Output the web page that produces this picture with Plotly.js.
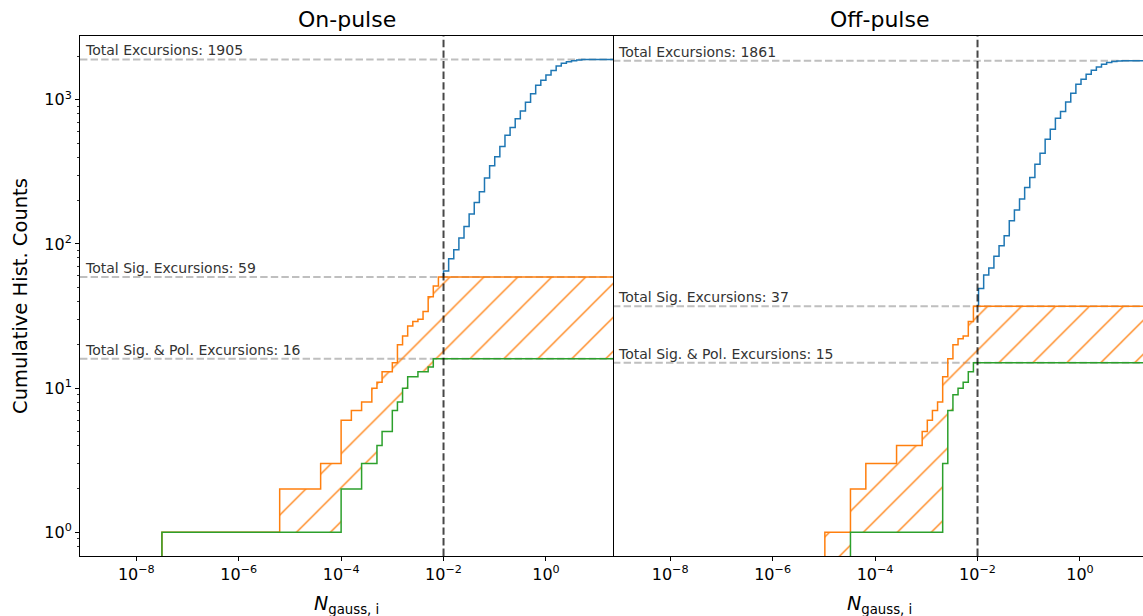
<!DOCTYPE html>
<html><head><meta charset="utf-8">
<script src="https://cdn.plot.ly/plotly-3.0.1.min.js"></script>
<style>html,body{margin:0;padding:0;background:#fff;}#chart{width:1143px;height:616px;}</style>
</head><body><div id="chart"></div>
<script>
// ---------- data (log10 of N_gauss bin edge where the cumulative count changes, and the count after it) ----------
const panels = ["On-pulse", "Off-pulse"];
const threshold = 1e-2;

const onSigEdges  = [-7.5,-5.2,-4.4,-4.0,-3.8,-3.6,-3.4,-3.3,-3.2,-3.0,-2.9,-2.8,-2.7,-2.6,-2.5,-2.4,-2.3,-2.2,-2.1];
const onSigCounts = [1,2,3,6,7,8,10,11,13,15,20,23,27,29,30,34,43,51,59];
const onPolEdges  = [-7.5,-4.0,-3.6,-3.3,-3.2,-3.0,-2.9,-2.8,-2.7,-2.5,-2.3,-2.2];
const onPolCounts = [1,2,3,4,5,7,8,10,12,13,14,16];
// total curve above the threshold (below it, it coincides with the significant curve)
const onTotEdges  = [-2.0,-1.9,-1.8,-1.7,-1.6,-1.5,-1.4,-1.3,-1.2,-1.1,-1.0,-0.9,-0.8,-0.7,-0.6,-0.5,-0.4,-0.3,-0.2,-0.1,0.0,0.1,0.2,0.3,0.4,0.5,0.6,0.7,0.8,0.9];
const onTotCounts = [65,79,91,110,132,161,194,230,287,348,402,474,568,641,737,837,960,1102,1259,1364,1485,1598,1713,1789,1835,1865,1886,1898,1903,1905];
const onTotals = [1905, 59, 16];

const offSigEdges  = [-4.98,-4.48,-4.18,-3.58,-3.08,-2.98,-2.88,-2.78,-2.68,-2.58,-2.48,-2.38,-2.28,-2.18,-2.08];
const offSigCounts = [1,2,3,4,5,6,7,8,12,16,20,22,23,29,37];
const offPolEdges  = [-4.48,-2.68,-2.58,-2.48,-2.38,-2.28,-2.18,-2.08];
const offPolCounts = [1,3,7,9,10,11,13,15];
const offTotEdges  = [-1.98,-1.88,-1.78,-1.68,-1.58,-1.48,-1.38,-1.28,-1.18,-1.08,-0.98,-0.88,-0.78,-0.68,-0.58,-0.48,-0.38,-0.28,-0.18,-0.08,0.02,0.12,0.22,0.32,0.42,0.52,0.62,0.72,0.82];
const offTotCounts = [49,61,68,82,97,114,145,172,205,246,289,357,426,533,625,745,828,966,1109,1280,1386,1502,1600,1687,1760,1810,1840,1856,1861];
const offTotals = [1861, 37, 15];

const labelPrefixes = ["Total Excursions: ", "Total Sig. Excursions: ", "Total Sig. & Pol. Excursions: "];
const xTickVals = [1e-8, 1e-6, 1e-4, 1e-2, 1];
const xTickText = ["10<sup>\u22128</sup>","10<sup>\u22126</sup>","10<sup>\u22124</sup>","10<sup>\u22122</sup>","10<sup>0</sup>"];
const yTickVals = [1, 10, 100, 1000];
const yTickText = ["10<sup>0</sup>","10<sup>1</sup>","10<sup>2</sup>","10<sup>3</sup>"];

// ---------- helpers ----------
const C_BLUE = "#1f77b4", C_ORANGE = "#ff7f0e", C_GREEN = "#2ca02c";
const FLOOR = 0.01;      // stands for a zero count, below the visible axis range
const X_END = 1.6;       // log10 x where the cumulative curves run off the axes

function stepVerts(edges, counts, start) {
  const xs = [], ys = [];
  let prev = start;
  for (let i = 0; i < edges.length; i++) {
    const x = Math.pow(10, edges[i]);
    xs.push(x, x); ys.push(prev, counts[i]); prev = counts[i];
  }
  xs.push(Math.pow(10, X_END)); ys.push(prev);
  return {xs, ys};
}

const data = [];
const shapes = [];
const annotations = [];
const FONT = "DejaVu Sans";

function addPanel(idx, sigE, sigC, polE, polC, totE, totC, totals) {
  const xa = idx === 0 ? "x" : "x2";
  const ya = idx === 0 ? "y" : "y2";
  const sig = stepVerts(sigE, sigC, FLOOR);
  const pol = stepVerts(polE, polC, FLOOR);
  const tot = stepVerts(totE, totC, sigC[sigC.length - 1]);
  // hatched region between significant and sig.&pol. curves
  data.push({
    x: sig.xs.concat(pol.xs.slice().reverse()),
    y: sig.ys.concat(pol.ys.slice().reverse()),
    xaxis: xa, yaxis: ya, mode: "lines", fill: "toself",
    line: {width: 0, color: "rgba(0,0,0,0)"},
    fillcolor: "rgba(0,0,0,0)",
    fillpattern: {shape: "/", fgcolor: C_ORANGE, bgcolor: "rgba(0,0,0,0)", fillmode: "replace", size: 24, solidity: 0.055},
    hoverinfo: "skip", showlegend: false
  });
  data.push({x: tot.xs, y: tot.ys, xaxis: xa, yaxis: ya, mode: "lines", line: {color: C_BLUE, width: 1.5}, showlegend: false, hoverinfo: "skip"});
  data.push({x: sig.xs, y: sig.ys, xaxis: xa, yaxis: ya, mode: "lines", line: {color: C_ORANGE, width: 1.5}, showlegend: false, hoverinfo: "skip"});
  data.push({x: pol.xs, y: pol.ys, xaxis: xa, yaxis: ya, mode: "lines", line: {color: C_GREEN, width: 1.5}, showlegend: false, hoverinfo: "skip"});

  totals.forEach((t, k) => {
    shapes.push({type: "line", xref: xa + " domain", x0: 0, x1: 1, yref: ya, y0: t, y1: t,
      line: {color: "#bfbfbf", width: 2, dash: "7.4px,3.2px"}, layer: "below"});
    annotations.push({xref: xa + " domain", x: 0.006, yref: ya, y: Math.log10(t), xanchor: "left", yanchor: "bottom",
      yshift: -1, showarrow: false, text: labelPrefixes[k] + t, font: {family: FONT, size: 14, color: "#333333"}});
  });
  shapes.push({type: "line", xref: xa, x0: threshold, x1: threshold, yref: ya + " domain", y0: 0, y1: 1,
    line: {color: "rgba(0,0,0,0.72)", width: 2, dash: "7.4px,3.2px"}, layer: "above"});

  annotations.push({xref: xa + " domain", x: idx === 0 ? 0.5 : 0.503, yref: "paper", y: 1.031, xanchor: "center", yanchor: "middle",
    showarrow: false, text: panels[idx], font: {family: FONT, size: 22, color: "#000"}});
  annotations.push({xref: xa + " domain", x: idx === 0 ? 0.5 : 0.503, yref: "paper", y: -0.094, xanchor: "center", yanchor: "middle",
    showarrow: false, text: "<i>N</i><sub>gauss, i</sub>", font: {family: FONT, size: 19, color: "#000"}});
}

addPanel(0, onSigEdges, onSigCounts, onPolEdges, onPolCounts, onTotEdges, onTotCounts, onTotals);
addPanel(1, offSigEdges, offSigCounts, offPolEdges, offPolCounts, offTotEdges, offTotCounts, offTotals);

annotations.push({xref: "paper", x: -0.0565, yref: "paper", y: 0.5, xanchor: "center", yanchor: "middle", textangle: -90,
  showarrow: false, text: "Cumulative Hist. Counts", font: {family: FONT, size: 19.5, color: "#000"}});

const minorY = [];
[1, 10, 100, 1000].forEach(d => { for (let m = 2; m <= 9; m++) minorY.push(d * m); });
minorY.unshift(0.8, 0.9);

const split = 533 / 1063;
const baseX = {type: "log", showgrid: false, zeroline: false, showline: true, linecolor: "#000", linewidth: 1, mirror: true,
  ticks: "outside", ticklen: 4, tickwidth: 1, tickcolor: "#000", tickmode: "array", tickvals: xTickVals, ticktext: xTickText,
  tickfont: {family: FONT, size: 16, color: "#000"}, fixedrange: true};
const baseY = {type: "log", range: [-0.164, 3.442], showgrid: false, zeroline: false, linecolor: "#000", linewidth: 1,
  tickmode: "array", tickvals: yTickVals, ticktext: yTickText, tickfont: {family: FONT, size: 16, color: "#000"}, fixedrange: true};

const layout = {
  width: 1143, height: 616,
  margin: {l: 80, r: 0, t: 36, b: 60},
  paper_bgcolor: "#fff", plot_bgcolor: "#fff",
  showlegend: false, hovermode: false,
  xaxis: Object.assign({}, baseX, {domain: [0, split], range: [-9.1, 1.31], anchor: "y"}),
  xaxis2: Object.assign({}, baseX, {domain: [split, 1], range: [-9.115, 1.23], anchor: "y2"}),
  yaxis: Object.assign({}, baseY, {anchor: "x", showline: true, mirror: true, ticks: "outside", ticklen: 4, tickwidth: 1, tickcolor: "#000",
    minor: {tickmode: "array", tickvals: minorY, ticks: "outside", ticklen: 2.2, tickwidth: 0.8, tickcolor: "#000"}}),
  yaxis2: Object.assign({}, baseY, {anchor: "x2", showline: false, ticks: "", showticklabels: false}),
  shapes: shapes,
  annotations: annotations
};

Plotly.newPlot("chart", data, layout, {staticPlot: true, displayModeBar: false});
</script>
</body></html>
